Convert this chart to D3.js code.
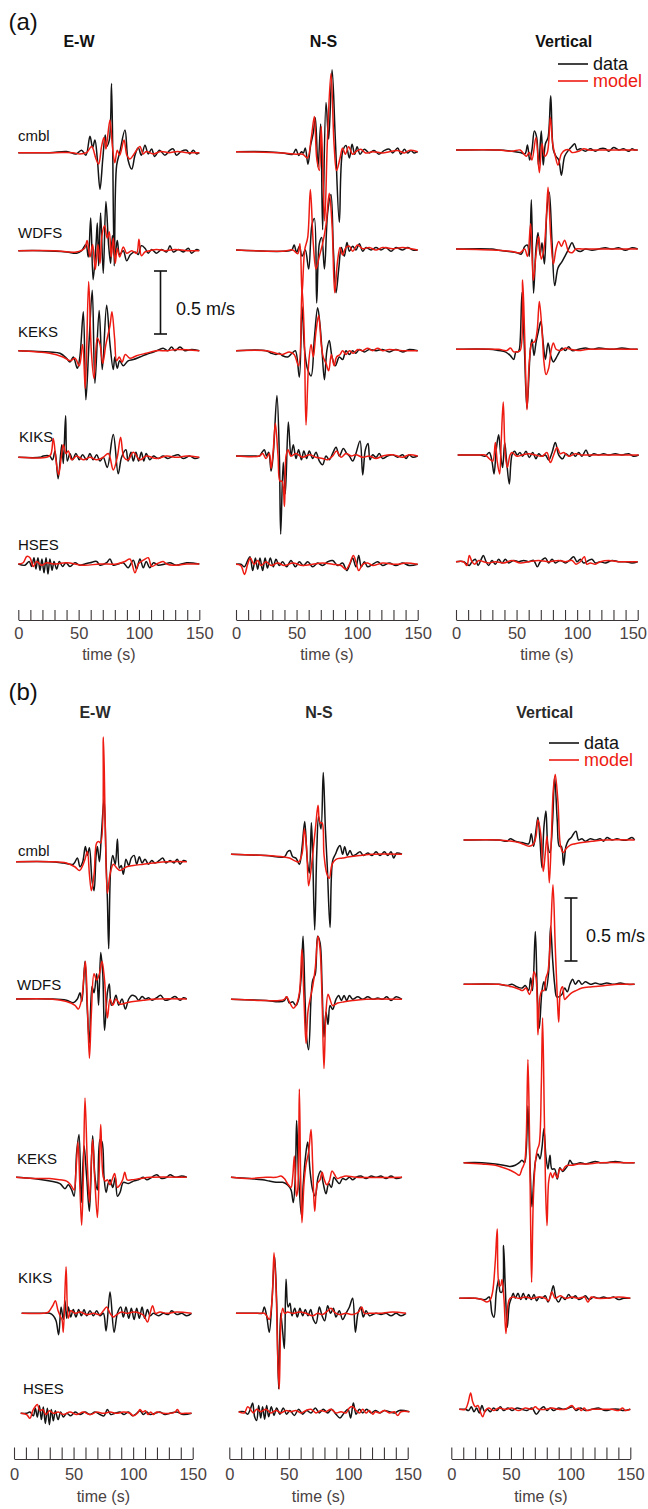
<!DOCTYPE html>
<html><head><meta charset="utf-8">
<script src="https://cdn.jsdelivr.net/npm/d3@7"></script>
<style>body{margin:0;background:#fff}svg{display:block}</style>
</head><body>
<svg id="fig" width="648" height="1509"></svg>
<script>
// ---------- labels ----------
const stations = ["cmbl", "WDFS", "KEKS", "KIKS", "HSES"];
const components = ["E-W", "N-S", "Vertical"];
const timeTicks = [0, 50, 100, 150];
const minorStep = 10;
const scaleBarValue = 0.5; // m/s
const legendLabels = ["data", "model"];

// ---------- waveforms: [time (s), velocity (m/s)] ----------
// (a) E-W
const aEW_cmbl_obs = [[0,0],[26,0],[40,0.01],[48,-0.01],[52.5,0.02],[56,-0.02],[59.4,0.13],[61.6,0.04],[63.5,0.10],[65.5,-0.05],[67.7,-0.29],[70,-0.05],[72,0.14],[73.2,0.05],[75.4,0.10],[77.3,0.55],[79.5,-0.9],[81.5,-0.1],[84,0],[88.4,0.18],[91,-0.06],[94,-0.13],[96.7,-0.02],[99.4,0.04],[102,-0.02],[105,0.06],[107.7,-0.01],[110.5,0.03],[113,-0.03],[117,0.02],[121.5,-0.02],[125.7,0.02],[128.4,0.03],[131,-0.02],[135,0.01],[139.5,0.02],[142,-0.01],[145,0.02],[147.8,-0.01],[150,0]];
const aEW_cmbl_mod = [[0,0],[30,0],[45,0],[51,-0.01],[56.6,0],[60.8,0.05],[64.4,-0.05],[66.6,-0.09],[69,0.05],[71,0.12],[72.6,0.03],[73.7,0.10],[76,0.26],[78,0.05],[80,-0.08],[82,0.02],[84,-0.02],[87.6,0.10],[90,-0.02],[92.5,-0.05],[95.3,-0.02],[98,0.02],[100.8,0.05],[103.5,-0.01],[106,0.01],[112,-0.01],[118,0.01],[125,0],[132,0.01],[140,0],[150,0]];
const aEW_WDFS_obs = [[0,0],[20,0],[40,-0.01],[48.3,-0.02],[52.5,0],[56,0.05],[58,-0.05],[60,0.26],[62,-0.23],[64.4,0.05],[65.5,0.22],[66.6,-0.12],[68.2,0.30],[70.4,-0.18],[72.6,0.39],[74.8,0.05],[76.5,-0.10],[78,0.12],[80,-0.05],[82,0.08],[84,-0.03],[87,0],[89.8,-0.08],[93,-0.03],[96.7,-0.01],[99.4,-0.03],[102,0.04],[105,0.02],[107.7,-0.02],[110.5,0.01],[114.6,-0.02],[118.8,0.01],[123,-0.01],[125.7,0.04],[128.4,-0.01],[132.6,0.01],[136.7,-0.01],[140.9,0.02],[143.6,-0.02],[147.8,0.01],[150,0]];
const aEW_WDFS_mod = [[0,0],[30,0],[48,-0.01],[55,0.02],[57,0.08],[59.4,-0.05],[61.6,0.05],[63.8,-0.15],[66,0.05],[67.7,-0.10],[69.3,0.12],[71.5,0.20],[73.7,0.10],[75.4,0.15],[77,-0.05],[78.7,0.10],[80.4,-0.10],[82,0.02],[84,-0.05],[87,0.03],[89.8,-0.02],[94,0],[98,-0.02],[100,0.09],[102,-0.04],[105,-0.01],[109,0],[114.6,0.01],[122,0],[130,0.01],[140,0],[150,0]];
const aEW_KEKS_obs = [[0,0],[26,-0.01],[34.5,-0.02],[40,-0.06],[42.8,-0.09],[45.6,-0.05],[48.9,-0.14],[51,-0.05],[53.9,0.31],[56,-0.39],[58.8,0.1],[61.3,0.48],[63.5,-0.26],[67,0.32],[69.6,-0.15],[73.2,0.36],[76,0.05],[78.7,-0.15],[80,-0.05],[82,-0.14],[84,-0.08],[87,-0.12],[91,-0.08],[95.3,-0.07],[100.8,-0.05],[106,-0.03],[112,-0.01],[114.6,0],[120,0.02],[124,0],[127,0.03],[129.8,0],[134,0.03],[138,0],[143.6,0.01],[150,0]];
const aEW_KEKS_mod = [[0,0],[26,-0.02],[37,-0.05],[43,-0.08],[47,-0.06],[50.5,-0.12],[53.3,0.05],[55.5,-0.30],[58.3,0.55],[60.5,0],[62.7,-0.22],[65.5,0.10],[67.7,0.05],[70,-0.10],[72.6,0.05],[76,0.2],[77.6,0.31],[79.8,0.10],[81.5,-0.08],[83.7,-0.05],[86,-0.09],[88.7,-0.03],[92.5,-0.06],[98,-0.04],[106,-0.02],[114.6,0],[123,0],[131,0.01],[150,0]];
const aEW_KIKS_obs = [[0,0],[18,0],[20.7,0.01],[26,0.01],[28.4,-0.02],[30.4,0.05],[33,-0.17],[36,0.10],[37.3,-0.05],[39.2,0.33],[40.6,-0.03],[42.8,0.03],[45,-0.02],[47.8,0.03],[50.5,-0.02],[53.3,0.02],[56.6,-0.02],[59.4,0.03],[62,-0.02],[65,0.02],[67.7,-0.03],[70.4,0],[73.7,-0.08],[78.7,0.18],[82.8,-0.13],[85.6,0],[89.2,0.06],[91,-0.03],[93.4,0.04],[95.3,-0.03],[97.5,0.04],[99.7,-0.03],[102,0.04],[104,-0.03],[106,0.03],[109,-0.02],[112,0.01],[116,-0.01],[120,0.01],[124,-0.01],[128.4,0.01],[132.6,0.02],[136.7,-0.01],[142,0.01],[146.4,-0.01],[150,0]];
const aEW_KIKS_mod = [[0,0],[23.5,0],[26.8,0.02],[29,0.15],[31.2,-0.02],[33.4,-0.14],[35.6,0],[37.3,0.10],[39.5,0.03],[41.4,0.05],[44.2,-0.02],[48.3,0.01],[53.9,-0.02],[59.4,0],[65,-0.02],[70.4,0],[74.6,0.03],[78.7,-0.10],[82,0],[84.8,0.16],[87.6,0],[91,-0.02],[95.3,0.04],[100.8,-0.02],[106,0.01],[114.6,-0.01],[123,0.01],[131,0],[139.5,0.01],[150,0]];
const aEW_HSES_obs = [[0,0],[5.5,-0.01],[9,0.02],[11,-0.02],[13,0.05],[14.6,-0.04],[16.3,0.05],[18,-0.05],[19.6,0.04],[21.3,-0.07],[23,0.05],[24.6,-0.08],[26.2,0.04],[28,-0.05],[29.6,0.02],[31.8,-0.04],[34,0.02],[36.7,-0.02],[39.5,0.01],[42.8,-0.02],[47,0.01],[51,-0.01],[55.2,0],[59.4,0.01],[65,0.02],[67.7,-0.01],[73.2,0.01],[76,0.04],[78.7,-0.01],[82.8,0],[87,0.01],[91,-0.03],[95.3,0.03],[98,-0.04],[100.8,0.04],[103.6,-0.03],[106,0.02],[109,-0.03],[112,0.01],[116,-0.01],[121.5,0],[125.7,0.01],[131,-0.01],[139.5,0.01],[150,0]];
const aEW_HSES_mod = [[0,0],[4,0.01],[7,0.06],[9.7,0.05],[12.4,-0.02],[15.2,0.02],[19.3,-0.01],[23.5,0.01],[29,0],[40,0.01],[54,-0.01],[67.7,0],[81.5,0],[88.4,0.02],[92.5,0.04],[96.7,-0.07],[99.4,0],[103.6,0.03],[107.7,0.05],[110.5,-0.02],[114.6,0],[120,0.02],[123,0],[128.4,-0.01],[139.5,0],[150,0]];

// (a) N-S
const aNS_cmbl_obs = [[0,0],[24.8,0],[38.5,-0.01],[46.8,-0.02],[49.5,0.02],[51.7,-0.03],[54,0],[55.6,-0.01],[57.2,0.03],[59.4,-0.10],[61.6,0.05],[63.8,0.15],[65.5,0.27],[67.7,-0.12],[69.9,0.22],[71.5,-0.62],[74.3,0.39],[76.5,0.1],[79.3,0.65],[82,0.1],[85.3,-0.56],[88,0],[90.8,0.05],[93.6,-0.05],[95.8,0.06],[98,-0.02],[100,0.04],[102.4,-0.02],[106,0.02],[110,-0.01],[114,0.01],[118,-0.02],[122.5,0.01],[126.6,0.02],[129.3,-0.01],[133.5,0.03],[136,-0.02],[139,0.02],[141.7,-0.01],[144.5,0.01],[147,-0.01],[150,0]];
const aNS_cmbl_mod = [[0,0],[38.5,-0.01],[49.5,-0.02],[55,-0.02],[59,-0.05],[62,0.1],[64.7,0.28],[66.6,-0.05],[68.8,-0.15],[70.4,0.2],[73.2,-0.55],[75.5,0.1],[78.4,0.62],[81,0.05],[83,-0.15],[85.9,-0.05],[88,0.03],[90.3,-0.02],[93,0.04],[96.3,-0.02],[99,0],[103,0.02],[107,-0.01],[112.8,0],[121,-0.01],[126.6,0],[133.5,0.01],[139,-0.01],[143,0.01],[150,0]];
const aNS_WDFS_obs = [[0,0],[38.5,-0.01],[46,0],[48,0.04],[50,-0.02],[52.3,0.03],[54.5,-0.05],[57.2,0],[60,-0.15],[62.7,0.2],[64.7,0.25],[66.6,-0.42],[68.8,0.05],[70.7,0.1],[73,-0.15],[75.7,0.3],[78.4,0.44],[80.4,0],[82.6,-0.34],[84.8,-0.15],[87,0.02],[89.4,-0.05],[91.6,0.06],[93.6,-0.01],[96.3,0.03],[99,0],[101.8,0.05],[104.6,-0.01],[107.3,0.02],[111.5,0],[115.6,0.02],[119.7,0],[123.8,0.02],[128,-0.01],[132,0.02],[137.6,0],[141.7,0.02],[145.9,0],[150,0]];
const aNS_WDFS_mod = [[0,0],[38.5,-0.01],[46.8,0],[51,-0.03],[52.8,0.05],[54.5,-0.35],[56.7,0],[59.2,0.1],[61.4,0.48],[63.8,0.05],[66,-0.15],[68.8,-0.05],[71.5,0.05],[74.3,0.2],[77,0.45],[79.3,0.2],[81.5,-0.34],[83.7,-0.1],[85.9,0.02],[88,-0.04],[90.8,0.02],[93.6,0.03],[96.3,-0.01],[100.4,0.04],[104.6,0.01],[110,0.02],[115.6,0],[121,0.02],[129.3,0.01],[137.6,0.02],[150,0]];
const aNS_KEKS_obs = [[0,0],[24.8,0],[29,-0.02],[33,-0.03],[35.8,-0.02],[38.5,-0.04],[42.7,-0.05],[46.2,-0.02],[49,0],[52.3,-0.21],[54.5,0.35],[56.7,0],[59.2,-0.15],[62,-0.2],[64.7,0.1],[67.4,0.34],[69.4,0.2],[71,0],[73,-0.23],[75,0],[77,0.08],[79.3,-0.05],[82,-0.12],[85.3,-0.05],[88,-0.07],[90.8,0],[93.6,-0.03],[96.3,0],[99,-0.02],[101.8,0.01],[106,-0.01],[110,0.01],[115.6,0],[121,0.01],[126.6,-0.01],[132,0.01],[137.6,-0.01],[143,0.01],[150,0]];
const aNS_KEKS_mod = [[0,0],[24.8,0],[33,-0.02],[38.5,-0.03],[44,-0.01],[48,-0.03],[51.7,-0.12],[54.5,0.5],[56.4,0.1],[57.8,-0.59],[60,-0.1],[62,0.05],[63.8,-0.05],[66,0.15],[68.2,0.28],[70.4,0.05],[72,-0.05],[74.3,-0.1],[76.5,-0.16],[78.7,-0.03],[81,-0.12],[83,-0.05],[85.9,-0.03],[88,0],[90.8,-0.03],[93.6,0],[96.9,-0.02],[100.4,0.01],[104.6,0],[108.7,0.02],[112.8,0],[117,0.02],[121,0],[126.6,0.01],[137.6,0],[150,0]];
const aNS_KIKS_obs = [[0,0],[16.5,0],[19.3,0],[21.5,0.03],[23.4,0.05],[25.3,0],[27,0.03],[29,-0.12],[30.8,0.02],[33.8,0.48],[35.8,0],[36.9,-0.62],[39,-0.05],[40.7,-0.3],[43.2,0.27],[45.4,0],[47.3,0.09],[49.5,-0.02],[51.7,0.05],[54,-0.03],[56,0.04],[58.3,-0.02],[60.5,0.04],[63.3,-0.02],[66,0.03],[68.8,-0.04],[71.5,-0.07],[74.3,0],[77,-0.03],[79.8,0.02],[82.6,0.07],[85.3,0],[88.6,0.06],[91.4,0.02],[93.6,0],[96.3,-0.04],[99,0.02],[102.4,0.12],[104.6,-0.15],[106.8,0.05],[109,0.1],[110.6,-0.03],[112.8,0.01],[115.6,-0.01],[118.3,0.02],[121,-0.02],[125,0],[129.3,0.01],[133.5,-0.01],[137.6,0.01],[140.4,-0.02],[143,0.01],[145.9,-0.01],[150,0]];
const aNS_KIKS_mod = [[0,0],[19.3,0],[22,0.02],[24.8,-0.02],[27.5,0.02],[29,-0.1],[30.8,0.05],[32.5,0.26],[34.7,0],[36.3,-0.2],[38,-0.2],[40,-0.4],[41.3,0],[43,0.05],[45.4,0],[49.5,0.02],[55,-0.01],[60.5,0.01],[66,-0.01],[71.5,-0.02],[75.7,-0.03],[79.8,0],[83,0.04],[86.7,-0.01],[90.8,0.02],[95,0],[99,0.01],[104.6,-0.01],[110,0],[115.6,-0.02],[121,0],[129.3,0.01],[137.6,-0.01],[143,0.01],[150,0]];
const aNS_HSES_obs = [[0,0],[4,0],[7,-0.02],[9.6,0.03],[11.5,0.06],[13.8,-0.05],[16,0.05],[17.9,-0.04],[19.8,0.05],[22,-0.05],[24,0.05],[26,-0.03],[28.3,0.05],[30.8,-0.02],[33,0.04],[35.8,-0.01],[38.5,0.02],[41.8,-0.02],[45.4,0.03],[49,-0.02],[52.3,0.02],[55.6,-0.01],[59.2,0.02],[63.3,-0.02],[67.4,0.01],[71.5,-0.01],[75.7,0.02],[79.8,0.03],[84,-0.01],[88,0.01],[91.4,-0.05],[94,0],[96.3,0.05],[99,-0.02],[101.3,0.07],[103.5,-0.02],[106,0.02],[108.7,-0.02],[112.8,0],[117,0.02],[121,-0.01],[126.6,0.01],[132,-0.01],[137.6,0.01],[143,-0.01],[150,0]];
const aNS_HSES_mod = [[0,0],[4,-0.01],[7,-0.08],[9.6,0],[11.8,0.05],[15,0],[17.9,0.03],[20.6,-0.01],[24.8,0.02],[29,-0.01],[34.4,0.01],[40,-0.01],[46.8,0.01],[55,-0.01],[63.3,0],[71.5,0.01],[79.8,0],[86.7,-0.01],[90.8,-0.04],[93.6,0],[96.9,0.07],[99,0.02],[101.3,-0.05],[104.6,0],[108.7,0.01],[112.8,-0.01],[121,0.01],[132,0],[140.4,0.01],[150,0]];

// (a) Vertical
const aV_cmbl_obs = [[0,0],[35,0],[46.2,-0.01],[53,-0.02],[57,-0.03],[59,0.04],[60.8,-0.08],[62.7,0],[64.7,0.15],[66.6,0.1],[68.2,-0.13],[70.4,0.15],[72,-0.12],[73.8,0.05],[76,0.1],[78.2,0.43],[80.4,0],[82.6,-0.05],[84.8,-0.08],[87,-0.2],[89.7,-0.05],[93,0],[95.8,0.03],[98,0.05],[100,0],[102.6,0.01],[106.8,-0.01],[111,0.01],[115,-0.01],[119,0.01],[123.3,0.01],[126,-0.01],[130.2,0.02],[134.3,0],[138.4,0.01],[142.6,-0.01],[145.3,0.01],[147.5,0],[150,0]];
const aV_cmbl_mod = [[0,0],[35,0],[46.2,-0.01],[53,0],[55.9,-0.03],[58,-0.05],[60.5,-0.02],[62.7,-0.08],[66,0.1],[68.8,-0.18],[71,0.05],[73.2,-0.05],[75.4,-0.02],[77.9,0.26],[79.8,0.05],[82,-0.05],[84.2,-0.12],[87,-0.03],[90.3,0],[93.6,0],[95.8,-0.02],[101.3,-0.01],[105.4,0.01],[109.5,0],[117.8,0],[150,0]];
const aV_WDFS_obs = [[0,0],[29.7,0],[35.2,-0.01],[43.5,-0.02],[50.4,-0.03],[54,-0.04],[56.7,0.02],[59,0.03],[60.5,-0.06],[62.2,0.39],[64,-0.35],[66,0],[67.7,0.13],[69.4,-0.05],[71,0.05],[73,-0.12],[75,0.3],[77,0.45],[79.3,0.05],[81.5,-0.29],[84.2,-0.15],[87.5,-0.1],[90.3,-0.05],[93,0],[95.8,0.05],[98.5,0],[102.6,-0.02],[106.8,0],[112.3,-0.01],[117.8,0],[123.3,0.01],[128.8,0],[134.3,0.01],[139.8,-0.01],[145.3,0.01],[150,0]];
const aV_WDFS_mod = [[0,0],[35,-0.01],[46.2,-0.02],[53,-0.03],[56.7,0],[59,-0.06],[61.6,0.2],[63.8,-0.25],[66,-0.05],[68.2,0.1],[70.4,-0.08],[72.6,0],[74.3,0.2],[76,0.49],[78.2,0.1],[80.4,-0.12],[82.6,0],[84.8,0.06],[87,0.02],[89.7,0.07],[93,-0.02],[95.8,-0.03],[99,0],[104,0],[112.3,0],[150,0]];
const aV_KEKS_obs = [[0,0],[27,0],[35.2,-0.01],[40.7,-0.02],[44.9,-0.05],[47.6,-0.08],[49.5,-0.02],[51.2,-0.02],[52.3,0],[54.5,0.45],[56.5,0],[58.6,-0.47],[61.4,0],[62.7,0.08],[64.4,-0.05],[66,0.05],[68.2,0.15],[70,0.22],[72,0.05],[73.8,-0.08],[76,0.05],[78.2,-0.05],[80.4,-0.1],[82.6,-0.07],[84.8,-0.03],[87.5,0.01],[90.3,-0.01],[93,0.02],[95.8,-0.01],[101.3,0],[106.8,0.01],[112.3,0],[117.8,0.01],[128.8,0],[137,0.01],[145.3,0],[150,0]];
const aV_KEKS_mod = [[0,0],[35,0],[42,-0.01],[44.9,0.01],[47.6,-0.02],[50.4,-0.02],[53,-0.01],[55,0.55],[56.7,0.1],[58.6,-0.48],[60.5,-0.1],[62.7,0.05],[65,0.06],[67,0.15],[68.8,0.38],[71,0.15],[72.6,-0.1],[74.3,-0.2],[76.5,-0.15],[78.7,0],[80.4,0.05],[82.6,0],[86.1,-0.01],[90.3,0.01],[94.4,0],[101.3,-0.01],[109.5,0],[150,0]];
const aV_KIKS_obs = [[1.4,0],[16,0],[20,0],[24,-0.01],[27.5,0.02],[29.7,-0.05],[31.4,-0.15],[33.3,0.05],[35.2,0.16],[36.9,0],[38.5,-0.1],[40.2,0.1],[41.8,-0.05],[44,-0.23],[46.2,0],[48.4,0.03],[50.6,0],[52.8,0.02],[55,-0.01],[57.8,0.03],[60.5,-0.02],[63.3,0.02],[66,-0.03],[68.2,0.01],[71,-0.01],[73.8,0],[76.5,-0.04],[79.3,0.02],[82,0.1],[84.8,0],[88,-0.03],[90.8,0.01],[93.6,-0.01],[95.8,0.02],[98.5,-0.01],[101.3,0.02],[104,-0.01],[107.3,0.04],[110,-0.01],[113.7,0.01],[117.8,0],[121.9,0.01],[126,0],[131.5,0.01],[137,0],[142.6,0.01],[146.7,-0.01],[150.8,0]];
const aV_KIKS_mod = [[1.4,0],[18.7,0],[24,0],[27.5,-0.03],[30.3,-0.05],[32.5,0.1],[34,-0.05],[36,-0.15],[37.3,0.1],[39,0.42],[40.7,0],[42.4,-0.1],[44.6,0],[46.2,0.02],[50.4,-0.01],[54.5,0],[60,0.01],[65.5,0],[71,-0.01],[75,0.02],[77.9,-0.06],[80.6,0],[83.4,0.06],[86.1,0.01],[88.9,0.02],[93,-0.01],[98.5,0.01],[104,0],[109.5,0],[117.8,0],[150.8,0]];
const aV_HSES_obs = [[0,0],[6.3,0],[9,-0.02],[11,-0.03],[13.2,0],[16,0.02],[18.2,-0.03],[20.4,0.01],[22.6,0.05],[24.8,0],[27,-0.03],[29.7,0.01],[32.5,-0.02],[35.2,0.02],[38,-0.01],[40.7,0.02],[43.5,-0.01],[47.6,0.01],[51.7,0],[55.9,0.01],[60,0],[64.1,0.01],[67.1,-0.04],[69.6,0],[73.8,0.03],[76.5,-0.01],[79.3,0.02],[82,-0.01],[86.1,0.01],[90.3,-0.01],[93.6,0.01],[97.1,0.04],[99.9,0],[102.6,0.02],[105.4,-0.01],[109.5,0.01],[112.3,0.02],[115,-0.01],[119.2,0],[123.3,-0.01],[128.8,0.01],[134.3,0],[139.8,0],[145.3,-0.01],[150,0]];
const aV_HSES_mod = [[0,0],[6.3,0],[9,-0.03],[11,0.05],[13.2,0],[15.4,-0.02],[18.7,0.01],[22.8,0],[27,-0.01],[32.5,0],[39.4,-0.01],[46.2,0.01],[53,-0.01],[60,0],[68.2,0.01],[76.5,0],[84.8,0.01],[90.3,0],[95.8,0.01],[99,-0.02],[102.6,0],[106,0.04],[108,-0.02],[111,-0.01],[115,-0.02],[119.2,0],[126,0.01],[134.3,0],[150,0]];

// (b) E-W
const bEW_cmbl_obs = [[1.7,0],[30,0],[41.4,-0.01],[49.8,-0.02],[53.2,0.03],[55.4,-0.04],[57.7,0],[59.9,0.12],[61.6,0.05],[63.3,0.11],[65.5,-0.15],[67.2,-0.23],[68.9,0.05],[70,0.12],[71.7,0],[73.3,0.2],[75.6,0.5],[77.3,0],[78.4,-0.3],[79.5,-0.69],[81.2,-0.05],[82.9,0.05],[85,-0.02],[86.8,0.18],[88.5,-0.05],[90,-0.03],[91.8,-0.1],[94,0.02],[96.3,-0.03],[98.5,0.03],[100.8,0.05],[103,-0.02],[105.2,0.04],[107.5,-0.01],[110,0.02],[112.8,-0.02],[115.6,0.01],[118.4,-0.01],[122,0.01],[124.8,0.03],[127.6,-0.01],[131,0.01],[134.3,-0.01],[137,0.02],[139.4,-0.02],[142.2,0.01],[145,0]];
const bEW_cmbl_mod = [[1.7,0],[30,0],[44,-0.01],[51,-0.04],[55,-0.07],[57.7,-0.03],[59.6,0.02],[61.6,0.08],[63.3,-0.1],[65,-0.23],[67.2,-0.1],[69.4,0.15],[71,0.16],[72.8,0.15],[75,0.99],[76.6,0.3],[78.4,-0.25],[80.6,-0.1],[83.4,-0.02],[86.2,-0.05],[89,-0.07],[94.6,-0.04],[100.2,-0.03],[108.6,-0.02],[117,-0.01],[128.2,0],[145,0]];
const bEW_WDFS_obs = [[1.7,0],[30,0],[44,-0.01],[49.8,-0.03],[53.2,0],[55.4,0.05],[57,-0.02],[59.6,0.3],[61.6,-0.1],[63.3,-0.35],[65.5,0.1],[67.2,0.05],[69.4,0.2],[71,-0.05],[72.8,0.37],[74.5,0.2],[76,-0.25],[78.4,0.05],[80,0.12],[81.7,-0.05],[83.4,-0.03],[85.6,0.03],[87.9,-0.05],[90.7,0],[93.5,-0.08],[96.3,0],[99,0.03],[101.9,0.02],[104.7,-0.01],[107.5,0.02],[110.3,0],[113,0.01],[115.9,-0.01],[119.8,0.01],[123,0.03],[126.8,-0.01],[131,0],[135.2,0.02],[139.4,-0.01],[142.2,0.01],[145,0]];
const bEW_WDFS_mod = [[1.7,0],[30,0],[44,-0.02],[51.2,-0.05],[54,-0.08],[56.8,0],[59.9,0.3],[61.6,-0.05],[63.3,-0.47],[65,-0.1],[67.2,0.2],[69.4,0.15],[71.7,0.2],[73.9,0.3],[76,0.15],[78.4,-0.15],[80.6,0],[82.9,-0.05],[85.6,0],[89,-0.04],[94.6,-0.03],[100.2,-0.02],[108.6,-0.01],[119.8,0],[145,0]];
const bEW_KEKS_obs = [[1.7,0],[16.2,-0.01],[30.2,-0.03],[38.6,-0.05],[42.8,-0.09],[45.6,-0.06],[48.4,-0.1],[50.4,-0.15],[52.6,0.2],[54.6,0.34],[56.5,-0.2],[58.8,0.25],[61,0],[63.3,-0.27],[66,0.33],[68,0],[70,-0.1],[72.2,0.3],[73.9,0.28],[75.6,0],[77.3,-0.12],[79,-0.05],[80.6,-0.02],[82.9,-0.08],[85,0],[86.8,-0.15],[89,-0.12],[91.8,-0.04],[96,-0.05],[100.2,-0.03],[104.4,-0.02],[108.6,0],[111.4,-0.02],[115.6,0],[119.8,0.02],[124,-0.01],[128.2,0],[131,0.02],[135.2,0],[140.8,0.01],[145,0]];
const bEW_KEKS_mod = [[1.7,0],[16.2,-0.01],[30,-0.01],[38.6,-0.02],[44.2,-0.03],[47.6,-0.06],[50.4,-0.1],[52,0.05],[53.7,0.28],[55.4,-0.1],[56.8,-0.38],[58.2,0],[59.6,0.63],[61.6,0.1],[63.3,-0.2],[64.4,0],[66,0.3],[67.7,0],[70,-0.32],[71.7,0.1],[72.8,0.42],[75,0],[76.7,-0.03],[78.4,-0.02],[80.6,-0.06],[82.3,-0.02],[84.5,0.03],[86.8,-0.08],[89,-0.06],[91.2,-0.02],[93,0.04],[95,-0.02],[98.7,-0.02],[105.8,-0.01],[114.2,0],[145,0]];
const bEW_KIKS_obs = [[6.4,0],[24.6,0],[30,0],[33,-0.02],[35.3,-0.06],[37.5,-0.17],[39.5,0.05],[41.4,-0.05],[42.8,0.1],[44.2,-0.04],[45.6,0.05],[47.6,-0.03],[49.8,0.03],[52,-0.03],[54.3,0.03],[56.5,-0.02],[58.8,0.03],[61,-0.02],[63.8,0.02],[66.6,-0.02],[69.4,0.02],[72.2,-0.02],[75,0],[77.3,-0.14],[80.6,0.17],[84,-0.15],[86.8,0],[89.6,0.05],[91.8,-0.03],[94,0.05],[96.3,-0.04],[98.5,0.04],[100.8,-0.05],[103,0.04],[105.2,-0.04],[107.5,0.05],[109.7,-0.04],[112,0.03],[114.2,-0.02],[117,0],[121.2,-0.02],[125.4,0],[129.6,-0.01],[132.4,0.02],[136.6,-0.01],[140.8,0],[145,-0.02],[149,0]];
const bEW_KIKS_mod = [[6.4,0],[24.6,0],[28.8,0.01],[32.5,0.06],[34.7,0.1],[37,0.02],[39.2,-0.03],[40.3,-0.05],[41.4,-0.15],[43.7,0.37],[45.6,-0.04],[47.6,0.02],[51.2,0],[55.4,0.01],[61,-0.01],[66.6,0],[72.2,-0.01],[75,0.02],[77.8,0.05],[80.6,0],[83.4,-0.03],[86.2,-0.01],[90.4,0.01],[94.6,0],[100.2,0.01],[105.8,0],[109.1,-0.02],[112,-0.07],[114.2,0],[116.4,0.06],[118.7,0],[122.6,0.01],[128.2,0],[136.6,0.01],[149,0]];
const bEW_HSES_obs = [[5.6,0],[10.6,0],[13.4,0.01],[16.2,-0.02],[17.9,0.04],[19.6,-0.03],[21.3,0.06],[23,-0.05],[24.6,0.05],[26.3,-0.08],[28,0.04],[29.7,-0.09],[31.3,0.03],[33,-0.06],[34.7,0.02],[37,-0.05],[39.2,0.01],[41.4,-0.03],[44.2,0],[47.6,-0.02],[51.2,0.01],[55.4,-0.01],[59.6,0.01],[63.8,-0.01],[68,0.01],[72.2,-0.01],[75.6,-0.02],[78.4,0.03],[81.2,-0.01],[84.8,0],[89,0.01],[92.4,-0.01],[96,0.01],[99.6,-0.02],[103,0],[105.8,0.02],[108.6,-0.01],[111.4,0.01],[114.2,-0.01],[118.4,0],[122.6,0.01],[126.8,-0.01],[131,0],[136.6,0.01],[142.2,-0.01],[149,0]];
const bEW_HSES_mod = [[5.6,0],[10.6,-0.01],[13.4,-0.04],[15.7,0.02],[17.6,0.05],[19.6,0.07],[21.8,0.02],[24,0.03],[26.9,-0.01],[29.7,0.02],[33,0],[37.2,0.01],[41.4,-0.01],[47,0.01],[52.6,-0.01],[58.2,0.01],[63.8,-0.01],[69.4,0.01],[75,0],[80.6,0.01],[86.2,0],[91.8,0.01],[97.4,0],[100.2,-0.02],[103.6,0],[105.8,0.03],[108,0.01],[110.3,0.02],[112.5,-0.01],[114.8,0.01],[117,-0.01],[119.8,0.01],[125.4,0],[131,0],[135.2,0.01],[137.2,0.03],[139.4,0],[143.6,0],[149,0]];

// (b) N-S
const bNS_cmbl_obs = [[1.4,0],[30.8,-0.01],[46.3,-0.02],[49,0.02],[51,0.03],[53.3,-0.02],[56,-0.03],[58.9,-0.08],[61.1,0.05],[63.4,0.26],[65.6,-0.05],[67.3,-0.15],[69,0.25],[70.1,0],[71.8,-0.6],[73.5,0],[75.1,0.3],[77.1,0.2],[79,0.65],[80.8,0.2],[82.4,-0.1],[84.7,-0.58],[86.9,-0.05],[89.2,0],[91.4,0.05],[93.1,0.07],[95.3,0],[97,0.06],[99.3,-0.01],[101.5,0.03],[103.7,-0.01],[106.6,0],[110,0.02],[112.7,-0.01],[116.4,0.01],[120,-0.01],[123.4,0.02],[126.7,-0.01],[130.4,0.02],[133.2,-0.01],[136,0.02],[138.2,-0.03],[140.8,0.01],[145.2,0]];
const bNS_cmbl_mod = [[1.4,0],[30.8,-0.01],[44.9,-0.02],[50.5,-0.03],[54.7,-0.05],[58.3,-0.06],[61.1,0],[63.1,0.2],[65,0.05],[66.7,-0.25],[69,-0.1],[70.7,0.05],[72.9,0.25],[74.6,0.39],[76.3,0.25],[78,0.25],[79.6,0],[81.9,-0.15],[84.1,-0.19],[86.4,-0.08],[89.7,-0.04],[95.3,-0.03],[101,-0.02],[109.4,-0.01],[120.6,0],[145.2,0]];
const bNS_WDFS_obs = [[1.4,0],[30.8,-0.01],[42,-0.02],[46.3,-0.01],[48.2,0.02],[50.5,-0.03],[53.3,-0.02],[56,-0.05],[58.3,0],[60.6,0.2],[62,0.5],[63.7,0],[65,-0.3],[66.7,-0.4],[68.7,0],[70.1,0.15],[72.3,0.2],[74.3,0.5],[76.3,0.45],[78,0.1],[79.6,-0.3],[81.3,-0.1],[83,-0.2],[84.7,-0.05],[86.9,-0.08],[89.7,0],[92,0.03],[94.2,-0.01],[96.5,0.03],[98.7,-0.01],[101,0.03],[103.7,0],[108,0.02],[112.2,0],[116.4,0.02],[120.6,0],[124.8,0.01],[129,0],[132.4,0.02],[136,-0.01],[140.2,0.02],[145.2,0]];
const bNS_WDFS_mod = [[1.4,0],[30.8,-0.01],[42,-0.01],[46.3,0],[48.2,0.02],[50.5,-0.02],[53.8,-0.07],[56,-0.05],[58.9,0.05],[61.1,0.4],[62.8,0],[64.5,-0.35],[66.1,-0.1],[67.9,0],[70.1,0.1],[72.3,0.25],[74.6,0.5],[76.3,0.4],[78,0],[79.6,-0.55],[81.3,-0.1],[83,0.04],[84.7,0],[86.9,-0.05],[91.1,-0.03],[96.7,-0.02],[103.7,-0.01],[115,0],[145.2,0]];
const bNS_KEKS_obs = [[1.4,0],[16.8,-0.01],[28,-0.02],[33.6,-0.03],[39.3,-0.04],[44.9,-0.04],[49,-0.06],[51.9,-0.1],[53.8,-0.2],[55.5,0],[56.6,0.45],[58.3,0],[60.6,-0.3],[62.2,-0.05],[63.9,0.15],[65.9,0.28],[67.9,0.05],[70.1,-0.1],[72.3,-0.15],[74.6,0],[76.8,0.05],[79,-0.05],[81.3,-0.13],[83.6,-0.05],[85.8,-0.08],[88,0],[89.7,-0.02],[92.5,-0.05],[95.3,-0.01],[98.1,-0.02],[101,0],[103.7,-0.02],[106.6,0],[110.8,0.01],[115,-0.01],[119.2,0.01],[123.4,0],[127.6,0.01],[131.8,-0.01],[136,0.01],[140.2,-0.01],[145.2,0]];
const bNS_KEKS_mod = [[1.4,0],[16.8,-0.01],[30.8,0],[39.3,0],[43.5,0.01],[46.3,-0.01],[49,-0.05],[51.9,-0.08],[53.3,0],[54.7,0.17],[56.4,-0.15],[57.5,-0.1],[58.9,0.7],[60,0],[61.1,-0.36],[62.8,-0.05],[64.5,0.1],[66.7,0.2],[68.7,0.38],[70.1,0.1],[71.8,-0.27],[74,-0.05],[76.3,-0.02],[78,0.04],[79.9,-0.02],[81.9,-0.06],[84.1,-0.03],[86.4,0.05],[88.6,0.02],[90.8,-0.01],[93.9,0],[98.1,0.01],[106.6,0],[145.2,0]];
const bNS_KIKS_obs = [[5.6,0],[16.8,0],[23.8,0],[27.5,0],[29.4,0.05],[31.4,-0.02],[33.6,-0.15],[35.9,0.1],[38.1,0.45],[39.8,0.1],[41.5,-0.6],[43.2,0],[44.9,-0.15],[46.3,-0.28],[47.7,0.27],[49.4,0.05],[51,0.08],[52.7,-0.02],[55,0.04],[57.2,-0.03],[59.4,0.04],[61.7,-0.02],[63.9,0.03],[66.2,-0.02],[68.4,0.03],[70.7,-0.05],[72.9,-0.08],[75.7,0.05],[78,-0.02],[80.2,-0.06],[82.7,0.06],[85.2,0],[87.5,0.04],[89.7,-0.03],[92.5,0.02],[95.3,-0.05],[98.1,0],[101,0.05],[103.7,0.12],[106,-0.15],[108.2,0],[110.5,0.05],[112.7,-0.03],[115,0.02],[117.8,-0.02],[120.6,-0.01],[123.4,0],[127.6,-0.01],[131.8,0],[136,-0.02],[140.2,0],[144.4,-0.02],[148.6,0]];
const bNS_KIKS_mod = [[5.6,0],[25.2,0],[29.4,0],[31.4,-0.02],[33.6,-0.05],[35.9,0.1],[37.6,0.48],[39.3,0.2],[40.9,-0.4],[42,-0.6],[43.5,-0.05],[44.9,0.04],[46.5,0],[49,0.01],[53.3,0],[58.9,0.01],[64.5,0],[70.1,-0.02],[74.3,0],[78.5,-0.01],[82.7,0.02],[85.5,0.04],[88.3,0.01],[92.5,-0.01],[98.1,0],[103.7,-0.01],[108.7,0.01],[111.3,0.05],[113.6,0],[117.8,0],[126.2,0],[137.4,0.01],[148.6,0]];
const bNS_HSES_obs = [[7.9,0],[12.6,0],[15.4,-0.02],[17.7,0.02],[19.6,0.07],[21.3,-0.04],[23,-0.07],[24.7,0.05],[26.4,-0.05],[28,0.04],[29.7,-0.06],[31.4,0.05],[33.1,-0.04],[35.3,0.04],[37.6,-0.03],[39.8,0.03],[42.6,-0.02],[45.4,0.03],[48.2,-0.02],[51,0.01],[54.7,-0.03],[58.3,0.02],[61.7,-0.02],[65,0.01],[68.7,-0.01],[72.3,0.03],[75.7,-0.01],[79,0.02],[82.7,-0.01],[86,0.02],[89.7,-0.02],[93.1,-0.05],[96.5,-0.01],[99.8,0.02],[102,-0.05],[104.3,0.07],[106.6,-0.02],[109.4,0.02],[112.2,-0.01],[115.5,0.02],[119.2,-0.01],[122.8,0.01],[126.7,-0.01],[130.4,0.01],[134.6,0],[138.8,-0.01],[143,0.01],[151.4,0]];
const bNS_HSES_mod = [[7.9,0],[12.6,-0.01],[15.4,0.04],[17.7,0.02],[20.2,-0.01],[23,0.02],[26.6,0],[30.8,0.02],[35,-0.01],[39.3,0.01],[43.5,-0.01],[47.7,0.01],[51.9,0],[56,0.01],[60.3,-0.01],[64.5,0.01],[68.7,0.02],[72.9,-0.01],[77.1,0.01],[81.3,0],[85.5,0.02],[89.7,-0.01],[93.9,0],[98.1,-0.01],[101,0.03],[103.7,0.04],[106.6,0.01],[109.4,-0.01],[112.2,0.02],[115,-0.01],[117.8,0.01],[120.6,-0.02],[122.8,0],[126.2,-0.01],[130.4,0.01],[134.6,-0.01],[138.8,0],[141.6,-0.03],[144.4,0],[151.4,0]];

// (b) Vertical
const bV_cmbl_obs = [[10.3,0],[39.7,0],[46.6,-0.01],[49.4,0.01],[53.6,-0.01],[59.2,-0.02],[64.8,-0.03],[67,0.05],[69,-0.05],[71,0.08],[72.6,0.18],[74.3,0],[76,-0.22],[77.6,0.1],[79.3,0.23],[81,-0.05],[82.7,-0.1],[84.9,0.15],[86.6,0.5],[88.8,0.15],[90.5,-0.05],[92.2,-0.05],[94.1,-0.2],[96.1,-0.05],[98.3,0],[100.5,0.02],[102.5,0.05],[104.5,0.07],[106.7,0],[109.5,0.01],[112.3,-0.01],[116.5,0.01],[120.7,0],[124.8,0.01],[127.6,-0.01],[130.4,0.02],[134.6,0],[138.8,0.01],[143,0],[147.2,0],[151.4,0.02],[153.6,0]];
const bV_cmbl_mod = [[10.3,0],[39.7,0],[50.8,-0.01],[56.4,-0.02],[62,-0.04],[65.4,-0.05],[69,-0.03],[71,0.03],[72.6,0.16],[74.9,0.05],[77.1,-0.25],[78.8,-0.1],[80.2,0.03],[82.1,-0.34],[83.8,0],[85.5,0.4],[87.1,0.52],[89.4,0.3],[91.6,-0.05],[93.8,-0.1],[96.1,-0.07],[99.7,-0.04],[103.9,-0.03],[109.5,-0.02],[117.9,-0.01],[129,0],[153.6,0]];
const bV_WDFS_obs = [[10.3,0],[39.7,0],[46.6,-0.01],[50.8,0],[55,-0.02],[59.2,-0.03],[62,-0.01],[64.8,-0.05],[66.5,0.05],[68.1,-0.05],[70.4,0.42],[72,-0.05],[73.7,-0.35],[76,-0.05],[77.6,0.02],[79.3,-0.05],[81.6,0.1],[83.2,0.46],[84.9,0.2],[86.6,0],[88.3,-0.1],[90,-0.1],[92.7,-0.08],[95,-0.03],[97.2,-0.06],[99.4,0],[101.7,0.04],[103.9,0],[106.7,0.03],[109.5,0],[112.3,0.02],[116.5,0],[120.7,0.01],[124.8,0],[130.4,0.01],[136,0],[141.6,0.01],[147.2,0],[153.6,0]];
const bV_WDFS_mod = [[10.3,0],[39.7,0],[50.8,-0.02],[57,-0.04],[59.8,-0.05],[62.6,-0.03],[65.4,-0.08],[67.6,-0.02],[69.3,0.1],[71,0.05],[72.6,-0.4],[74.3,-0.1],[76,-0.05],[77.6,-0.05],[79.3,0.05],[81,0.1],[83.2,0.4],[85.2,0.79],[87.1,0.3],[88.8,-0.1],[90,-0.3],[91.6,-0.05],[93.3,-0.02],[95,-0.12],[97.2,-0.1],[100.5,-0.07],[104.5,-0.05],[109.5,-0.03],[117.9,-0.02],[129,-0.01],[140.2,0],[153.6,0]];
const bV_KEKS_obs = [[10.3,0],[25.7,0],[36.9,-0.01],[43.8,-0.02],[49.4,-0.03],[53.6,-0.02],[57,0],[59.2,0.02],[61.4,0],[62.8,0.1],[64.2,0.45],[65.9,0],[67.6,-0.35],[69.3,-0.1],[70.9,0.03],[72.6,0.07],[74.3,0.03],[76,0.12],[77.6,0.27],[79.3,0.05],[81,-0.05],[82.7,0.06],[84.3,-0.05],[86.6,-0.05],[88.8,-0.13],[91,-0.04],[93.3,-0.07],[95.5,-0.05],[97.8,-0.02],[99.4,0.02],[101.7,-0.01],[104.5,-0.01],[108.1,0],[112.3,-0.01],[116.5,0],[120.7,0.01],[124.8,0],[130.4,0],[137.4,0.01],[144.4,0],[153.6,0]];
const bV_KEKS_mod = [[10.3,0],[25.7,-0.01],[36.9,-0.02],[43.8,-0.04],[49.4,-0.06],[53.6,-0.08],[57,-0.1],[59.2,-0.05],[61.4,0],[62.8,0.2],[64.2,0.82],[65.4,0.3],[66.5,-0.5],[67.3,-0.95],[68.7,-0.3],[70.4,0],[72,0.1],[73.7,0.15],[75.4,0.6],[76.5,1.15],[77.9,0.4],[79,-0.2],[80.2,-0.5],[81.6,-0.15],[83.2,-0.08],[84.9,-0.12],[86.6,-0.08],[88.8,-0.12],[91,-0.05],[93.3,-0.06],[95.5,-0.03],[97.8,-0.02],[101.1,-0.02],[106.7,-0.01],[115,-0.01],[123.4,0],[153.6,0]];
const bV_KIKS_obs = [[6.7,0],[20.1,0],[28.5,-0.01],[31.8,0.01],[34.1,-0.12],[35.8,-0.15],[37.7,0.05],[39.7,0.15],[41,0.05],[42.5,0.05],[43.8,0.42],[45.2,0.1],[46.9,-0.23],[48.6,-0.05],[50.3,0],[51.9,0.04],[53.6,0],[55.9,0.04],[58.1,-0.01],[60.3,0.04],[62.6,-0.01],[64.8,0.03],[67,-0.01],[69.3,0.03],[71.5,-0.02],[73.7,0.01],[76,0],[78.8,0.02],[81,-0.03],[83.2,0.02],[85.5,0.1],[87.7,0],[89.9,-0.03],[92.7,0.01],[95.5,-0.01],[98.3,0.03],[101.1,0],[103.9,0.02],[106.7,-0.01],[109.5,0],[112.3,0.02],[115.6,-0.01],[119.3,0.01],[123.4,0],[127.6,0.01],[131.8,0],[136,0.01],[140.2,-0.01],[144.4,0],[150,0]];
const bV_KIKS_mod = [[6.7,0],[20.1,0],[25.7,-0.01],[29.9,-0.03],[32.7,-0.01],[34.6,0.05],[36.9,0.3],[38.5,0.55],[40.2,0.1],[41.3,0.1],[42.5,0.15],[44.1,0],[45.8,-0.28],[47.5,-0.05],[49.2,0],[52.2,0.01],[56.4,0],[62,0.01],[67.6,0],[73.2,0.01],[78.8,0],[81.6,-0.02],[84.3,0.05],[87.1,0],[91.3,0.02],[95.5,0],[101.1,0.01],[106.7,0],[111.7,0.01],[114.5,-0.03],[117.3,0.01],[122,0],[129,0],[140.2,0.01],[150,0]];
const bV_HSES_obs = [[6.7,0],[11.7,0],[14.5,-0.01],[16.8,0.02],[19,-0.02],[21.2,0.01],[23.5,-0.03],[25.7,0.03],[27.9,-0.02],[30.2,0],[32.7,-0.02],[35.5,0.01],[38.3,-0.01],[41.1,0.02],[43.9,-0.01],[47.5,0.01],[50.8,-0.01],[55,0.01],[59.2,0],[63.4,-0.01],[67.6,0.01],[71.2,-0.04],[74.6,0],[77.4,0.02],[80.2,-0.01],[82.9,0.01],[85.7,-0.01],[89.9,0.01],[94.1,0],[98.3,0.01],[101.7,0.02],[104.5,-0.01],[108.1,0.01],[112.3,-0.01],[117.9,0],[123.4,0.01],[129,-0.01],[134.6,0],[140.2,0],[144.4,-0.01],[150,0]];
const bV_HSES_mod = [[6.7,0],[11.7,0],[14,0.05],[16.2,0.13],[17.9,0.06],[20.1,0.02],[22.3,0.03],[24.3,-0.02],[26.3,-0.06],[28.5,-0.01],[31.3,0.01],[35.5,-0.01],[39.7,0.01],[45.2,0],[50.8,0.01],[56.4,-0.01],[62,0.01],[67.6,0],[70.4,0.02],[73.2,0],[78.8,0],[84.3,0.01],[89.9,0],[95.5,0],[101.1,0.03],[103.9,0],[106.7,0.01],[108.9,-0.01],[111.2,0.01],[113.7,-0.01],[117.9,0],[123.4,0],[129,0],[134.6,0],[140.2,-0.01],[143.6,0.01],[145.8,-0.01],[150,0]];

// ---------- trace tables: [component][station] -> [observed, synthetic] ----------
const tracesA = [
  [[aEW_cmbl_obs,aEW_cmbl_mod],[aEW_WDFS_obs,aEW_WDFS_mod],[aEW_KEKS_obs,aEW_KEKS_mod],[aEW_KIKS_obs,aEW_KIKS_mod],[aEW_HSES_obs,aEW_HSES_mod]],
  [[aNS_cmbl_obs,aNS_cmbl_mod],[aNS_WDFS_obs,aNS_WDFS_mod],[aNS_KEKS_obs,aNS_KEKS_mod],[aNS_KIKS_obs,aNS_KIKS_mod],[aNS_HSES_obs,aNS_HSES_mod]],
  [[aV_cmbl_obs,aV_cmbl_mod],[aV_WDFS_obs,aV_WDFS_mod],[aV_KEKS_obs,aV_KEKS_mod],[aV_KIKS_obs,aV_KIKS_mod],[aV_HSES_obs,aV_HSES_mod]]
];
const tracesB = [
  [[bEW_cmbl_obs,bEW_cmbl_mod],[bEW_WDFS_obs,bEW_WDFS_mod],[bEW_KEKS_obs,bEW_KEKS_mod],[bEW_KIKS_obs,bEW_KIKS_mod],[bEW_HSES_obs,bEW_HSES_mod]],
  [[bNS_cmbl_obs,bNS_cmbl_mod],[bNS_WDFS_obs,bNS_WDFS_mod],[bNS_KEKS_obs,bNS_KEKS_mod],[bNS_KIKS_obs,bNS_KIKS_mod],[bNS_HSES_obs,bNS_HSES_mod]],
  [[bV_cmbl_obs,bV_cmbl_mod],[bV_WDFS_obs,bV_WDFS_mod],[bV_KEKS_obs,bV_KEKS_mod],[bV_KIKS_obs,bV_KIKS_mod],[bV_HSES_obs,bV_HSES_mod]]
];

// ---------- layout ----------
const PX_PER_MS = 126;          // vertical pixels per 1 m/s
const COLOR_OBS = "#141414";
const COLOR_MOD = "#ee1b12";
const FONT = "'Liberation Sans', Arial, Helvetica, sans-serif";
const SVG_W = 648;

const panels = [
  { letter: "(a)", letterY: 30, headerY: 47, headerX: [79, 323.5, 563.7], headerColor: "#111",
    cols: [[18.3, 199.3], [236, 417.7], [456, 637.7]],
    base: [[152.7, 250.7, 350.7, 457.3, 564], [151.7, 250, 350.7, 456, 564.3], [150, 249, 349.3, 455, 561.7]],
    labelX: [18, 18, 18, 19, 18], labelY: [140.5, 238.4, 337, 442, 550.4],
    axisY: 620, tickLen: 10, tickPad: 7, titleY: 660,
    legend: { x0: 558, x1: 588, y: [64, 81], tx: 593 },
    bar: { x: 160.5, top: 271, cap: 6.5, tx: 176, ty: 314.5 },
    traces: tracesA },
  { letter: "(b)", letterY: 700, headerY: 718, headerX: [95, 319, 544.7], headerColor: "#2a2a2a",
    cols: [[14, 192.7], [229.3, 407.7], [451.3, 630.3]],
    base: [[861.7, 999, 1177.3, 1313.3, 1413.3], [854.3, 999.3, 1177.3, 1313.3, 1411.7], [840, 984.3, 1162.7, 1298.3, 1409.3]],
    labelX: [18, 17, 17, 18, 23], labelY: [855.5, 990.4, 1164.4, 1283.4, 1394.4],
    axisY: 1459, tickLen: 11.5, tickPad: 9, titleY: 1502,
    legend: { x0: 549, x1: 579, y: [743, 760], tx: 584 },
    bar: { x: 571, top: 898, cap: 6.5, tx: 586, ty: 942 },
    traces: tracesB }
];

const svg = d3.select("#fig").style("font-family", FONT);

panels.forEach(p => {
  const g = svg.append("g");

  // panel letter
  g.append("text").attr("x", 8.5).attr("y", p.letterY)
    .attr("font-size", 24).attr("fill", "#111").text(p.letter);

  // component headers
  components.forEach((c, ci) => {
    g.append("text").attr("x", p.headerX[ci]).attr("y", p.headerY)
      .attr("text-anchor", "middle").attr("font-size", 16).attr("font-weight", "bold")
      .attr("fill", p.headerColor).text(c);
  });

  // station names (left column)
  stations.forEach((s, si) => {
    g.append("text").attr("x", p.labelX[si]).attr("y", p.labelY[si])
      .attr("font-size", 15).attr("fill", "#111").text(s);
  });

  const line = d3.line().curve(d3.curveCatmullRom.alpha(0.5));

  components.forEach((c, ci) => {
    const x = d3.scaleLinear().domain([0, 150]).range(p.cols[ci]);

    stations.forEach((s, si) => {
      const b = p.base[ci][si];
      const y = d3.scaleLinear().domain([0, 1]).range([b, b - PX_PER_MS]);
      const [obs, mod] = p.traces[ci][si];
      line.x(d => x(d[0])).y(d => y(d[1]));
      g.append("path").datum(obs).attr("d", line)
        .attr("fill", "none").attr("stroke", COLOR_OBS).attr("stroke-width", 1.5)
        .attr("stroke-linejoin", "round");
      g.append("path").datum(mod).attr("d", line)
        .attr("fill", "none").attr("stroke", COLOR_MOD).attr("stroke-width", 1.5)
        .attr("stroke-linejoin", "round");
    });

    // time axis with ticks pointing up
    const axis = d3.axisBottom(x)
      .tickValues(d3.range(0, 151, minorStep))
      .tickSizeInner(-p.tickLen).tickSizeOuter(0).tickPadding(p.tickPad)
      .tickFormat(d => timeTicks.includes(d) ? d : "");
    const ag = g.append("g").attr("transform", `translate(0,${p.axisY})`).call(axis);
    ag.select(".domain").attr("stroke", "#3b3535").attr("stroke-width", 1.2);
    ag.selectAll(".tick line").attr("stroke", "#3b3535").attr("stroke-width", 1.1);
    ag.selectAll(".tick text").attr("font-size", 16.5).attr("fill", "#4a4242")
      .attr("font-family", FONT);
    // keep the right-most tick label inside the figure
    ag.selectAll(".tick text").each(function () {
      const bb = this.getBBox();
      const tx = this.parentNode.transform.baseVal.consolidate().matrix.e;
      const over = tx + bb.x + bb.width - (SVG_W - 1);
      if (over > 0) d3.select(this).attr("dx", -over);
    });

    g.append("text").attr("x", (p.cols[ci][0] + p.cols[ci][1]) / 2).attr("y", p.titleY)
      .attr("text-anchor", "middle").attr("font-size", 16).attr("fill", "#4a4242")
      .text("time (s)");
  });

  // legend
  [COLOR_OBS, COLOR_MOD].forEach((col, i) => {
    g.append("line").attr("x1", p.legend.x0).attr("x2", p.legend.x1)
      .attr("y1", p.legend.y[i]).attr("y2", p.legend.y[i])
      .attr("stroke", col).attr("stroke-width", 1.6);
    g.append("text").attr("x", p.legend.tx).attr("y", p.legend.y[i] + 6)
      .attr("font-size", 18).attr("fill", col).text(legendLabels[i]);
  });

  // amplitude scale bar
  const yb = d3.scaleLinear().domain([0, 1]).range([p.bar.top, p.bar.top + PX_PER_MS]);
  const y0 = yb(0), y1 = yb(scaleBarValue);
  const bar = g.append("g").attr("stroke", "#111").attr("stroke-width", 1.6);
  bar.append("line").attr("x1", p.bar.x).attr("x2", p.bar.x).attr("y1", y0).attr("y2", y1);
  bar.append("line").attr("x1", p.bar.x - p.bar.cap).attr("x2", p.bar.x + p.bar.cap).attr("y1", y0).attr("y2", y0);
  bar.append("line").attr("x1", p.bar.x - p.bar.cap).attr("x2", p.bar.x + p.bar.cap).attr("y1", y1).attr("y2", y1);
  g.append("text").attr("x", p.bar.tx).attr("y", p.bar.ty)
    .attr("font-size", 18).attr("fill", "#111").text(`${scaleBarValue} m/s`);
});
</script>
</body></html>
